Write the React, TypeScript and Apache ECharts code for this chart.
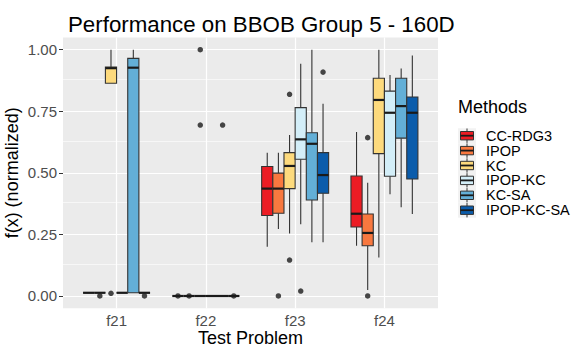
import React, { useEffect, useRef } from "react";
import * as echarts from "echarts";

const problems = ["f21", "f22", "f23", "f24"];
const methods = ["CC-RDG3", "IPOP", "KC", "IPOP-KC", "KC-SA", "IPOP-KC-SA"];
const fillColors = ["#EC1C24", "#F8783F", "#FDDA7D", "#D3EEF8", "#63AFD7", "#0B5CAB"];
const yTicks = [0, 0.25, 0.5, 0.75, 1];
const yMinorTicks = [0.125, 0.375, 0.625, 0.875];
const xTicks = [1, 2, 3, 4];

// per problem (f21..f24): [lower whisker, Q1, median, Q3, upper whisker]
const ccRdg3Stats = [
  [0.013, 0.013, 0.013, 0.013, 0.013],
  [0, 0, 0, 0, 0],
  [0.2, 0.327, 0.436, 0.526, 0.582],
  [0.204, 0.28, 0.334, 0.487, 0.666],
];
const ipopStats = [
  [0.013, 0.013, 0.013, 0.013, 0.013],
  [0, 0, 0, 0, 0],
  [0.272, 0.336, 0.436, 0.499, 0.582],
  [0.024, 0.204, 0.256, 0.333, 0.46],
];
const kcStats = [
  [0.864, 0.864, 0.925, 0.93, 1.0],
  [0, 0, 0, 0, 0],
  [0.254, 0.436, 0.528, 0.582, 0.654],
  [0.156, 0.578, 0.796, 0.884, 1.0],
];
const ipopKcStats = [
  [0.013, 0.013, 0.013, 0.013, 0.013],
  [0, 0, 0, 0, 0],
  [0.291, 0.555, 0.636, 0.765, 0.943],
  [0.413, 0.486, 0.744, 0.832, 0.897],
];
const kcSaStats = [
  [0.013, 0.013, 0.927, 0.965, 1.0],
  [0, 0, 0, 0, 0],
  [0.218, 0.39, 0.618, 0.663, 1.0],
  [0.36, 0.641, 0.771, 0.884, 0.924],
];
const ipopKcSaStats = [
  [0.013, 0.013, 0.013, 0.013, 0.013],
  [0, 0, 0, 0, 0],
  [0.218, 0.417, 0.491, 0.582, 0.781],
  [0.333, 0.475, 0.744, 0.808, 0.976],
];

// outliers: [problem number, value]
const ccRdg3Outliers = [[2, 0]];
const ipopOutliers = [[1, 0], [2, 0], [3, 0], [4, 0], [4, 0.643]];
const kcOutliers = [[1, 0.011], [2, 1.0], [2, 0.694], [3, 0.819], [3, 0.146]];
const ipopKcOutliers = [[3, 0.02]];
const kcSaOutliers = [[2, 0.694]];
const ipopKcSaOutliers = [[1, 0], [2, 0], [3, 0.909]];

const allStats = [ccRdg3Stats, ipopStats, kcStats, ipopKcStats, kcSaStats, ipopKcSaStats];
const allOutliers = [ccRdg3Outliers, ipopOutliers, kcOutliers, ipopKcOutliers, kcSaOutliers, ipopKcSaOutliers];

const FONT = "'Liberation Sans', Arial, Helvetica, sans-serif";
const DODGE = 0.75;
const BOXW = DODGE / methods.length;
const offsetOf = (i: number) => -DODGE / 2 + BOXW * (i + 0.5);

export default function App() {
  const ref = useRef<HTMLDivElement>(null);
  useEffect(() => {
    if (!ref.current) return;
    document.body.style.margin = "0";
    const chart = echarts.init(ref.current, null, { renderer: "svg" });

    const boxSeries = methods.map((name, mi) => ({
      type: "custom",
      name,
      z: 3,
      data: allStats[mi].map((s, k) => [k + 1, ...s]),
      encode: { x: 0, y: [1, 2, 3, 4, 5] },
      renderItem: (params: any, api: any) => {
        const x = api.value(0) + offsetOf(mi);
        const lo = api.value(1), q1 = api.value(2), md = api.value(3), q3 = api.value(4), hi = api.value(5);
        const pHi = api.coord([x, hi]);
        const pLo = api.coord([x, lo]);
        const pQ3 = api.coord([x, q3]);
        const pQ1 = api.coord([x, q1]);
        const tl = api.coord([x - BOXW / 2, q3]);
        const br = api.coord([x + BOXW / 2, q1]);
        const ml = api.coord([x - BOXW / 2, md]);
        const mr = api.coord([x + BOXW / 2, md]);
        return {
          type: "group",
          children: [
            { type: "line", shape: { x1: pHi[0], y1: pHi[1], x2: pQ3[0], y2: pQ3[1] }, style: { stroke: "#333333", lineWidth: 1.1 } },
            { type: "line", shape: { x1: pQ1[0], y1: pQ1[1], x2: pLo[0], y2: pLo[1] }, style: { stroke: "#333333", lineWidth: 1.1 } },
            { type: "rect", shape: { x: tl[0], y: tl[1], width: br[0] - tl[0], height: br[1] - tl[1] }, style: { fill: fillColors[mi], stroke: "#333333", lineWidth: 1.1 } },
            { type: "line", shape: { x1: ml[0], y1: ml[1], x2: mr[0], y2: mr[1] }, style: { stroke: "#1A1A1A", lineWidth: 2.2 } },
          ],
        };
      },
    }));

    const outlierSeries = methods.map((name, mi) => ({
      type: "scatter",
      name: name + " outliers",
      z: 4,
      symbol: "circle",
      symbolSize: 5.5,
      itemStyle: { color: "#1A1A1A" },
      data: allOutliers[mi].map(([k, v]) => [k + offsetOf(mi), v]),
    }));

    const gridSeries = {
      type: "line",
      name: "grid",
      data: [],
      z: 1,
      silent: true,
      markLine: {
        silent: true,
        z: 1,
        symbol: ["none", "none"],
        label: { show: false },
        animation: false,
        data: [
          ...yMinorTicks.map((v) => ({ yAxis: v, lineStyle: { color: "#FFFFFF", width: 0.6, type: "solid" } })),
          ...yTicks.map((v) => ({ yAxis: v, lineStyle: { color: "#FFFFFF", width: 1.2, type: "solid" } })),
          ...xTicks.map((v) => ({ xAxis: v, lineStyle: { color: "#FFFFFF", width: 1.2, type: "solid" } })),
        ],
      },
    };

    const legendGraphics: any[] = [
      { type: "text", left: 458, top: 98, style: { text: "Methods", fontFamily: FONT, fontSize: 18, fill: "#000000" } },
    ];
    methods.forEach((name, i) => {
      const cy = 135.7 + i * 14.9;
      legendGraphics.push(
        { type: "rect", shape: { x: 458, y: cy - 7.45, width: 18, height: 14.9 }, style: { fill: "#F2F2F2" } },
        { type: "line", shape: { x1: 467, y1: cy - 7.2, x2: 467, y2: cy + 7.2 }, style: { stroke: "#333333", lineWidth: 1 } },
        { type: "rect", shape: { x: 460.5, y: cy - 4.2, width: 13, height: 8.4 }, style: { fill: fillColors[i], stroke: "#333333", lineWidth: 1 } },
        { type: "line", shape: { x1: 460.5, y1: cy, x2: 473.5, y2: cy }, style: { stroke: "#1A1A1A", lineWidth: 1.8 } },
        { type: "text", x: 486, y: cy, style: { text: name, fontFamily: FONT, fontSize: 14.5, lineHeight: 14, fill: "#000000", verticalAlign: "middle" } }
      );
    });

    chart.setOption({
      animation: false,
      backgroundColor: "#FFFFFF",
      title: {
        text: "Performance on BBOB Group 5 - 160D",
        left: 63,
        top: 8,
        textStyle: { fontFamily: FONT, fontSize: 22.3, fontWeight: "normal", color: "#000000" },
      },
      grid: {
        left: 63,
        right: 137,
        top: 37.4,
        bottom: 40.7,
        show: true,
        backgroundColor: "#EBEBEB",
        borderWidth: 0,
        containLabel: false,
        outerBoundsMode: "none",
      },
      xAxis: {
        type: "value",
        min: 0.4,
        max: 4.6,
        name: "Test Problem",
        nameLocation: "middle",
        nameGap: 21,
        nameMoveOverlap: false,
        nameTextStyle: { fontFamily: FONT, fontSize: 18, lineHeight: 18, color: "#000000", verticalAlign: "top" },
        axisLine: { show: false },
        axisTick: { show: true, length: 4, lineStyle: { color: "#333333", width: 1 }, customValues: xTicks },
        axisLabel: {
          customValues: xTicks,
          formatter: (v: number) => problems[Math.round(v) - 1] ?? "",
          fontFamily: FONT,
          fontSize: 15,
          lineHeight: 15,
          color: "#4D4D4D",
          margin: 5,
        },
        splitLine: { show: false },
      },
      yAxis: {
        type: "value",
        min: -0.05,
        max: 1.05,
        name: "f(x) (normalized)",
        nameLocation: "middle",
        nameGap: 42,
        nameMoveOverlap: false,
        nameTextStyle: { fontFamily: FONT, fontSize: 18, color: "#000000" },
        axisLine: { show: false },
        axisTick: { show: true, length: 4, lineStyle: { color: "#333333", width: 1 }, customValues: yTicks },
        axisLabel: {
          customValues: yTicks,
          formatter: (v: number) => v.toFixed(2),
          fontFamily: FONT,
          fontSize: 15,
          color: "#4D4D4D",
          margin: 6,
        },
        splitLine: { show: false },
      },
      graphic: legendGraphics,
      series: [gridSeries, ...boxSeries, ...outlierSeries],
    });

    return () => chart.dispose();
  }, []);

  return <div ref={ref} style={{ width: 575, height: 349 }} />;
}
